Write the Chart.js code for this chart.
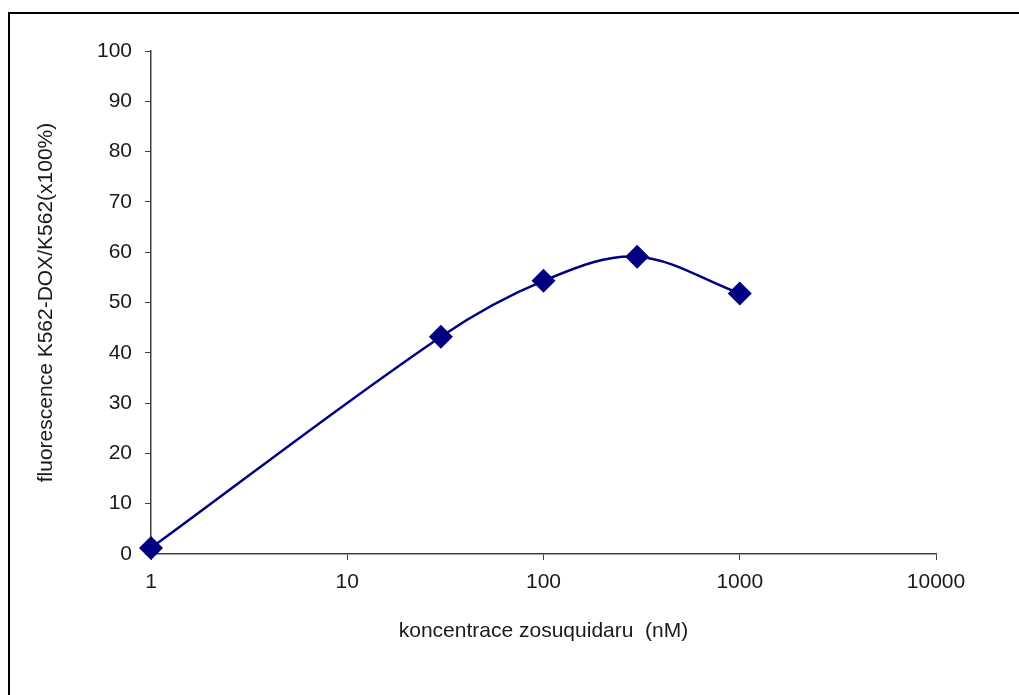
<!DOCTYPE html>
<html lang="cs">
<head>
  <meta charset="UTF-8" />
  <title>Fluorescence vs. koncentrace zosuquidaru</title>
  <script src="https://cdn.jsdelivr.net/npm/chart.js"></script>
  <style>
    body {
      margin: 0;
      background: #fff;
      overflow: hidden;
    }
    .frame {
      position: absolute;
      left: 8px;
      top: 12px;
      width: 1100px;
      height: 800px;
      border-left: 2px solid #000;
      border-top: 2px solid #000;
    }
    #chart {
      position: absolute;
      left: 0;
      top: 0;
    }
  </style>
</head>
<body>
  <div class="frame"></div>
  <canvas id="chart" width="1019" height="695"></canvas>

  <script>
    // data
    const concentrations = [1, 30, 100, 300, 1000];
    const fluorescence = [1.2, 43.2, 54.3, 59.1, 51.8];
    const xTickValues = [1, 10, 100, 1000, 10000];
    const yTickValues = [0, 10, 20, 30, 40, 50, 60, 70, 80, 90, 100];

    const navy = '#000080';
    const axisColor = '#404040';
    const textColor = '#1a1a1a';
    const fontFamily = "'Liberation Sans', Arial, sans-serif";

    const ctx = document.getElementById('chart').getContext('2d');
    const chart = new Chart(ctx, {
      type: 'line',
      data: {
        datasets: [{
          data: concentrations.map((c, i) => ({ x: c, y: fluorescence[i] })),
          borderColor: navy,
          backgroundColor: navy,
          borderWidth: 2.5,
          tension: 0.35,
          pointStyle: 'rectRot',
          pointRadius: 12,
          pointHoverRadius: 12,
          pointBorderWidth: 0,
          clip: false
        }]
      },
      options: {
        responsive: false,
        animation: false,
        layout: { padding: { left: 0, top: 51, right: 83, bottom: 0 } },
        plugins: {
          legend: { display: false },
          tooltip: { enabled: false }
        },
        scales: {
          x: {
            type: 'logarithmic',
            min: 1,
            max: 10000,
            afterBuildTicks: scale => { scale.ticks = xTickValues.map(v => ({ value: v })); },
            afterFit: scale => { scale.height = 695 - 554; },
            grid: { drawOnChartArea: false, drawTicks: true, tickLength: 6, color: axisColor },
            border: { color: axisColor, width: 1.5 },
            ticks: {
              padding: 10,
              color: textColor,
              font: { family: fontFamily, size: 21 },
              maxRotation: 0,
              callback: value => String(value)
            },
            title: {
              display: true,
              text: 'koncentrace zosuquidaru  (nM)',
              color: textColor,
              font: { family: fontFamily, size: 21 },
              padding: { top: 0, bottom: 51 }
            }
          },
          y: {
            min: 0,
            max: 100,
            afterBuildTicks: scale => { scale.ticks = yTickValues.map(v => ({ value: v })); },
            afterFit: scale => { scale.width = 151; },
            grid: { drawOnChartArea: false, drawTicks: true, tickLength: 6, color: axisColor },
            border: { color: axisColor, width: 1.5 },
            ticks: {
              padding: 13,
              color: textColor,
              font: { family: fontFamily, size: 21 }
            },
            title: {
              display: true,
              text: 'fluorescence K562-DOX/K562(x100%)',
              color: textColor,
              font: { family: fontFamily, size: 21 },
              padding: { top: 34, bottom: 0 }
            }
          }
        }
      }
    });
  </script>
</body>
</html>
